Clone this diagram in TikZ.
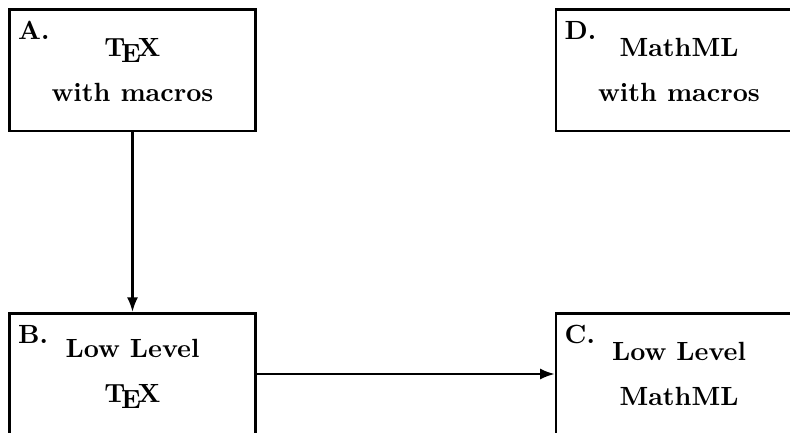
\documentclass[tikz,border=0pt]{standalone}
\usetikzlibrary{arrows.meta}
\begin{document}
\begin{tikzpicture}[x=0.38pt,y=-0.38pt,
  box/.style={draw, line width=1pt, minimum width=93.5pt, minimum height=46.2pt, inner sep=0pt, align=center, font=\bfseries},
  tag/.style={anchor=base west, inner sep=0pt, font=\bfseries},
  conn/.style={-{Latex[length=5.5pt,width=4.2pt]}, line width=0.8pt}]
\useasboundingbox (0,0) rectangle (790,432);
\node[box] (A) at (132.5,70.25) {\TeX\\[5.1pt]with macros};
\node[box] (D) at (679,70.25) {MathML\\[5.1pt]with macros};
\node[box] (B) at (132.5,374) {Low Level\\[5.1pt]\TeX};
\node[box] (C) at (679,374) {Low Level\\[5.1pt]MathML};
\node[tag] (la) at ([shift={(9.5,31.5)}]A.north west) {A.};
\node[tag] (ld) at ([shift={(9.5,31.5)}]D.north west) {D.};
\node[tag] (lb) at ([shift={(9.5,32)}]B.north west) {B.};
\node[tag] (lc) at ([shift={(9.5,32)}]C.north west) {C.};
\draw[conn] (A) -- (B);
\draw[conn] (B) -- (C);
\end{tikzpicture}
\end{document}
